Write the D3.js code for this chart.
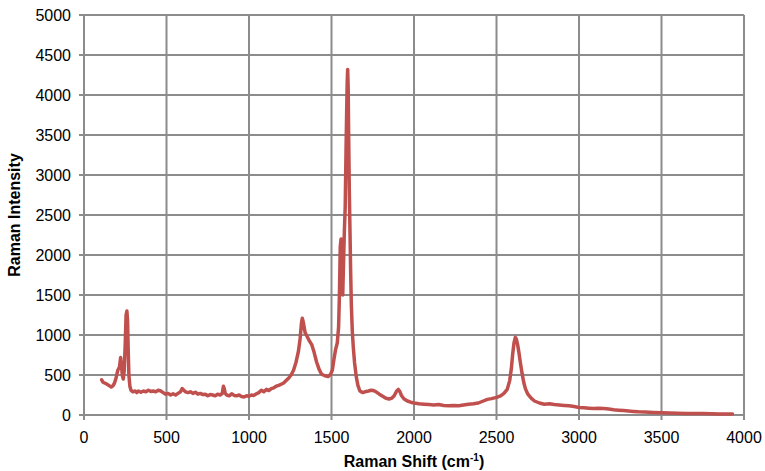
<!DOCTYPE html>
<html>
<head>
<meta charset="utf-8">
<script src="https://cdn.jsdelivr.net/npm/d3@7"></script>
<style>
  html, body { margin: 0; padding: 0; background: #fff; }
  svg { display: block; font-family: "Liberation Sans", Arial, sans-serif; }
</style>
</head>
<body>
<svg id="chart" width="765" height="471"></svg>
<script>
// Raman spectrum: shift (cm-1) and intensity
const shift = [107,115,125,135,150,165,175,185,195,205,215,222,228,232,238,244,250,255,260,264,268,272,278,285,295,310,320,330,345,360,375,390,405,420,435,450,465,480,495,510,525,540,555,570,585,595,605,615,630,645,660,675,690,705,720,735,750,765,780,795,810,825,838,845,850,856,865,880,895,910,925,940,955,970,985,1000,1015,1030,1045,1060,1075,1090,1105,1120,1135,1150,1165,1180,1195,1210,1225,1240,1255,1270,1285,1300,1310,1318,1323,1330,1340,1350,1365,1380,1395,1410,1425,1440,1460,1480,1495,1505,1515,1525,1535,1543,1548,1553,1558,1563,1568,1573,1578,1583,1588,1592,1595,1598,1601,1604,1608,1612,1616,1620,1626,1632,1640,1650,1660,1672,1690,1710,1725,1740,1755,1770,1790,1810,1830,1850,1865,1880,1895,1905,1915,1925,1940,1960,1980,2000,2030,2060,2090,2120,2150,2180,2210,2240,2270,2300,2330,2360,2390,2420,2445,2470,2500,2525,2545,2565,2580,2590,2598,2606,2614,2620,2628,2636,2645,2655,2665,2675,2690,2710,2730,2760,2790,2820,2850,2880,2910,2940,2970,3000,3030,3060,3090,3120,3150,3180,3210,3240,3270,3300,3330,3360,3400,3450,3500,3550,3600,3650,3700,3750,3800,3850,3900,3930];
const intensity = [440,410,400,390,370,350,365,400,470,560,600,720,600,500,450,560,900,1250,1300,1180,800,500,360,310,290,300,280,300,285,300,290,310,295,300,290,310,300,280,260,270,250,265,250,270,290,330,310,290,280,290,270,285,260,270,255,260,240,255,250,240,260,250,270,360,330,270,250,240,265,245,240,250,230,225,240,235,250,245,265,280,310,290,320,305,330,340,360,370,385,400,430,460,500,560,660,800,960,1150,1210,1150,1030,990,930,880,780,660,570,510,490,480,510,560,700,820,900,1100,1500,2100,2200,1700,1500,1900,2300,2600,3300,3800,4150,4320,4100,3500,2800,2300,1800,1400,1050,850,650,480,370,300,280,295,300,310,305,290,260,235,210,200,210,240,300,320,290,240,200,175,160,150,140,135,130,125,130,120,115,120,115,125,135,140,150,175,195,205,220,240,270,320,430,580,760,900,970,950,880,780,650,520,410,330,260,210,175,150,135,140,130,125,120,115,105,95,90,85,80,85,80,75,65,60,55,50,45,40,38,32,28,25,22,20,18,18,15,14,12,12];

const xTicks = [0,500,1000,1500,2000,2500,3000,3500,4000];
const yTicks = [0,500,1000,1500,2000,2500,3000,3500,4000,4500,5000];

const svg = d3.select("#chart");
const plotLeft = 84, plotRight = 744, plotTop = 15, plotBottom = 415;

const x = d3.scaleLinear().domain([0, 4000]).range([plotLeft, plotRight]);
const y = d3.scaleLinear().domain([0, 5000]).range([plotBottom, plotTop]);

const gridColor = "#8c8c8c";

// Gridlines (extended slightly past the axes as tick marks)
svg.append("g").selectAll("line").data(xTicks).join("line")
  .attr("x1", d => x(d)).attr("x2", d => x(d))
  .attr("y1", plotTop).attr("y2", plotBottom + 5)
  .attr("stroke", gridColor).attr("stroke-width", 2);
svg.append("g").selectAll("line").data(yTicks).join("line")
  .attr("x1", plotLeft - 5).attr("x2", plotRight)
  .attr("y1", d => y(d)).attr("y2", d => y(d))
  .attr("stroke", gridColor).attr("stroke-width", 2);

// Tick labels
svg.append("g").selectAll("text").data(yTicks).join("text")
  .attr("x", 71).attr("y", d => y(d))
  .attr("dy", "0.36em")
  .attr("text-anchor", "end")
  .attr("font-size", 16).attr("fill", "#000")
  .text(d => d);
svg.append("g").selectAll("text").data(xTicks).join("text")
  .attr("x", d => x(d)).attr("y", 443)
  .attr("text-anchor", "middle")
  .attr("font-size", 16).attr("fill", "#000")
  .text(d => d);

// Spectrum line
const pts = shift.map((s, i) => [s, intensity[i]]);
svg.append("path")
  .datum(pts)
  .attr("fill", "none")
  .attr("stroke", "#c0504d")
  .attr("stroke-width", 3.5)
  .attr("stroke-linejoin", "round")
  .attr("stroke-linecap", "round")
  .attr("d", d3.line().x(d => x(d[0])).y(d => y(d[1])));

// Axis titles
const xt = svg.append("text")
  .attr("x", (plotLeft + plotRight) / 2).attr("y", 467)
  .attr("text-anchor", "middle")
  .attr("font-size", 16).attr("font-weight", "bold");
xt.append("tspan").text("Raman Shift (cm");
xt.append("tspan").attr("font-size", 10).attr("dy", -6).text("-1");
xt.append("tspan").attr("dy", 6).text(")");

svg.append("text")
  .attr("transform", `translate(20,${(plotTop + plotBottom) / 2}) rotate(-90)`)
  .attr("text-anchor", "middle")
  .attr("font-size", 16).attr("font-weight", "bold")
  .text("Raman Intensity");
</script>
</body>
</html>
